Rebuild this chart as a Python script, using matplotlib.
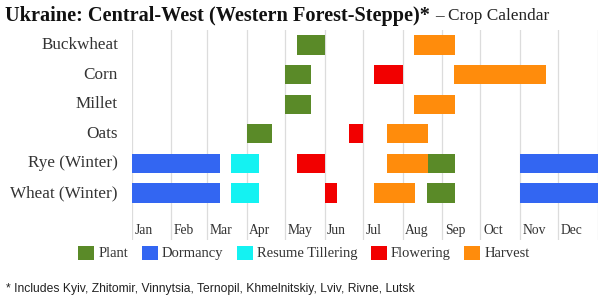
import numpy as np
import matplotlib
matplotlib.use("Agg")
from matplotlib import pyplot as plt
from matplotlib.patches import Patch

# crop rows, top to bottom
crops = ["Buckwheat", "Corn", "Millet", "Oats", "Rye (Winter)", "Wheat (Winter)"]
months = ["Jan", "Feb", "Mar", "Apr", "May", "Jun",
          "Jul", "Aug", "Sep", "Oct", "Nov", "Dec"]

stages = ["Plant", "Dormancy", "Resume Tillering", "Flowering", "Harvest"]
stage_colors = ["#5a8a28", "#3366f2", "#14f2f2", "#f20000", "#ff8c0c"]

# periods per stage: (crop, first day, last day)
plant = [("Buckwheat", "05-10", "05-31"),
         ("Corn", "05-01", "05-20"),
         ("Millet", "05-01", "05-20"),
         ("Oats", "04-01", "04-20"),
         ("Rye (Winter)", "08-21", "09-10"),
         ("Wheat (Winter)", "08-20", "09-10")]
dormancy = [("Rye (Winter)", "01-01", "03-10"),
            ("Rye (Winter)", "11-01", "12-31"),
            ("Wheat (Winter)", "01-01", "03-10"),
            ("Wheat (Winter)", "11-01", "12-31")]
tillering = [("Rye (Winter)", "03-20", "04-10"),
             ("Wheat (Winter)", "03-20", "04-10")]
flowering = [("Corn", "07-10", "07-31"),
             ("Oats", "06-20", "06-30"),
             ("Rye (Winter)", "05-10", "05-31"),
             ("Wheat (Winter)", "06-01", "06-10")]
harvest = [("Buckwheat", "08-10", "09-10"),
           ("Corn", "09-10", "11-20"),
           ("Millet", "08-10", "09-10"),
           ("Oats", "07-20", "08-20"),
           ("Rye (Winter)", "07-20", "08-20"),
           ("Wheat (Winter)", "07-10", "08-10")]
periods = [plant, dormancy, tillering, flowering, harvest]


def doy(md):
    # day of year counted from Jan 1 = 0
    d = np.datetime64("2023-" + md)
    return int((d - np.datetime64("2023-01-01")).astype(int))


W, H = 600, 305
fig = plt.figure(figsize=(W / 100, H / 100), dpi=100)
ax = fig.add_axes([131.7 / W, 1 - 240 / H, (598 - 131.7) / W, 210 / H])

row_h = 29.6
ax.set_xlim(0, 365)
ax.set_ylim((240 - 45) / row_h, (30 - 45) / row_h)
for s in ax.spines.values():
    s.set_visible(False)
ax.set_xticks([])
ax.set_yticks([])

month_starts = [doy("%02d-01" % (m + 1)) for m in range(12)]
for x in month_starts + [365]:
    ax.axvline(x, color="#dcdcdc", lw=0.9, zorder=0)

for stage_list, color in zip(periods, stage_colors):
    for crop, a, b in stage_list:
        start = doy(a)
        end = doy(b) + 1
        ax.barh(crops.index(crop), end - start, left=start, height=0.65,
                color=color, edgecolor="none", zorder=2)

serif = "Liberation Serif"
for i, c in enumerate(crops):
    fig.text(118 / W, 1 - (45 + i * row_h) / H, c, ha="right", va="center",
             family=serif, fontsize=12.3, color="#333333")

for x, m in zip(month_starts, months):
    ax.text(x + 2, (230.5 - 45) / row_h, m, ha="left", va="center",
            family=serif, fontsize=9.8, color="#333333")

handles = [Patch(facecolor=c, edgecolor="none") for c in stage_colors]
fig.legend(handles, stages, loc="center", bbox_to_anchor=(304 / W, 1 - 253 / H),
           ncol=5, frameon=False, prop={"family": serif, "size": 10.5},
           handlelength=1.1, handleheight=1.1, handletextpad=0.3,
           columnspacing=0.9, borderaxespad=0, labelcolor="#333333")

# bold region name, then the plain subtitle right after it
t1 = fig.text(5 / W, 1 - 16 / H, "Ukraine: Central-West (Western Forest-Steppe)*",
              family=serif, fontsize=14.6, fontweight="bold", va="center",
              color="#111111")
fig.canvas.draw()
title_end = t1.get_window_extent().x1
fig.text((title_end + 5) / W, 1 - 16 / H, "\u2013 Crop Calendar", family=serif,
         fontsize=12.4, va="center", color="#222222")

fig.text(6 / W, 1 - 289 / H,
         "* Includes Kyiv, Zhitomir, Vinnytsia, Ternopil, Khmelnitskiy, Lviv, Rivne, Lutsk",
         family="Liberation Sans", fontsize=8.7, va="center", color="#222222")

fig.savefig("out.png", dpi=100)
